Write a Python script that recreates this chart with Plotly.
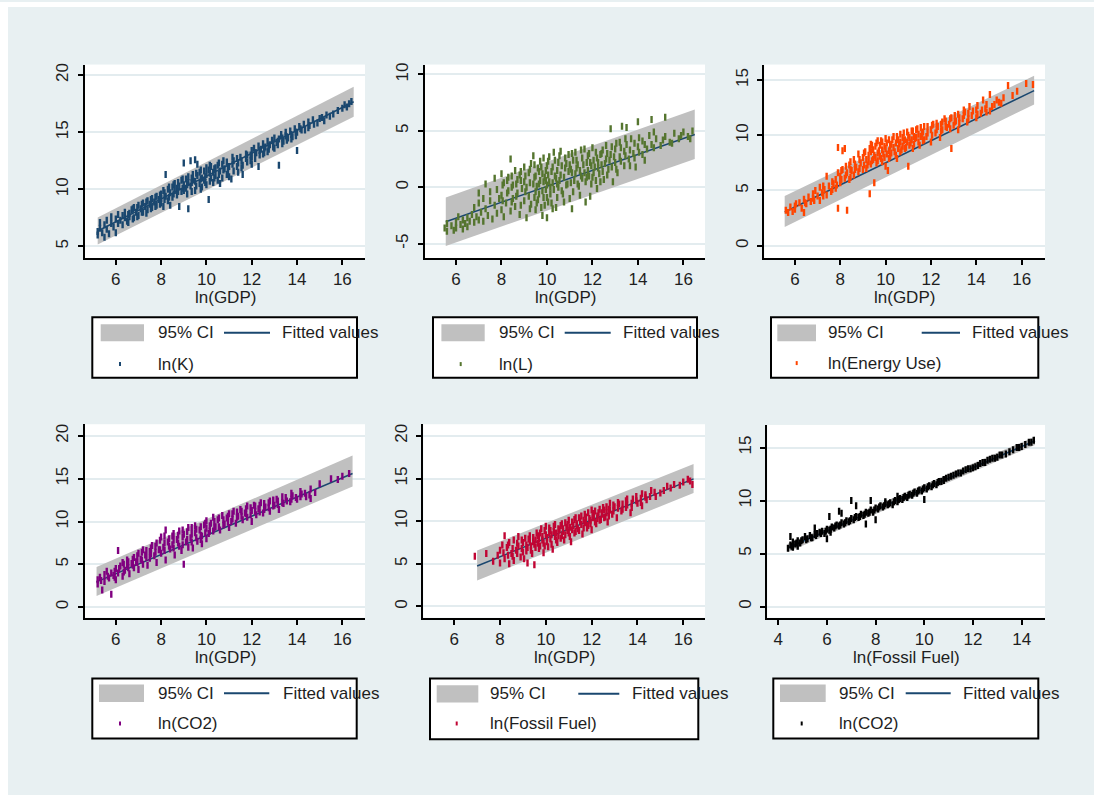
import plotly.graph_objects as go

W, H = 1094, 795

# ---------------- DATA ----------------
# scatter points: {x value: [y values at that x]}
lnK_by_gdp = {
    5.2: [6.3, 6.0], 5.3: [6.6, 7.1], 5.4: [6.2], 5.5: [6.9, 5.8], 5.6: [6.5, 7.3], 5.7: [6.1],
    5.8: [7.0, 7.6], 5.9: [6.7], 6.0: [7.4, 6.2], 6.1: [7.8, 7.0], 6.2: [7.3], 6.3: [6.9, 7.7],
    6.4: [7.5, 8.0], 6.5: [7.2], 6.6: [7.9, 7.6], 6.7: [8.2], 6.8: [7.5, 8.4], 6.9: [8.0],
    7.0: [8.6, 7.7], 7.1: [8.3], 7.2: [8.8, 8.0], 7.3: [8.5], 7.4: [9.0, 8.2], 7.5: [8.7],
    7.6: [9.2, 8.4], 7.7: [8.9], 7.8: [9.4, 8.6], 7.9: [9.1], 8.0: [9.6, 8.8, 9.2],
    8.1: [9.9, 8.5], 8.2: [11.3, 9.4], 8.3: [10.0, 9.0], 8.4: [9.7, 8.6], 8.5: [10.2, 9.3],
    8.6: [9.9, 10.5], 8.7: [9.5, 10.1], 8.8: [10.3, 8.5], 8.9: [10.8, 9.8],
    9.0: [12.3, 10.4, 9.9], 9.1: [10.9, 10.1], 9.2: [8.3, 10.6, 11.1], 9.3: [12.5, 10.3],
    9.4: [10.9, 11.3], 9.5: [12.6, 10.7, 9.9], 9.6: [12.2, 11.2], 9.7: [10.5, 11.5],
    9.8: [11.0, 10.2], 9.9: [11.6, 10.8], 10.0: [11.3, 11.9, 10.4], 10.1: [9.1, 11.7],
    10.2: [11.0, 12.0], 10.3: [11.5, 10.6], 10.4: [11.9, 11.2], 10.5: [10.8, 12.1],
    10.6: [11.6, 10.5], 10.7: [12.2, 11.0], 10.8: [11.8], 10.9: [12.4, 11.3], 11.0: [12.0, 11.1],
    11.1: [10.9], 11.2: [12.5, 11.6], 11.4: [12.3, 11.5], 11.5: [12.8], 11.6: [12.1, 11.3],
    11.8: [13.0, 12.4], 12.0: [12.8, 13.4, 12.2], 12.1: [13.6], 12.2: [13.2], 12.3: [12.0, 13.8],
    12.4: [13.5], 12.5: [13.1, 14.0], 12.6: [13.7], 12.7: [14.2, 13.3], 12.8: [13.9], 12.9: [14.3],
    13.0: [13.6, 14.5], 13.1: [14.1], 13.2: [12.1, 14.4], 13.3: [14.8], 13.4: [14.2],
    13.5: [14.7, 15.0], 13.6: [14.5], 13.7: [15.1], 13.8: [14.6], 13.9: [15.3],
    14.0: [13.4, 15.0], 14.1: [15.5], 14.2: [15.2], 14.3: [15.7], 14.5: [15.4, 15.9],
    14.7: [16.1], 14.9: [15.8], 15.0: [16.2], 15.2: [16.0], 15.3: [16.5], 15.6: [16.6],
    15.8: [16.9], 16.0: [17.1], 16.2: [17.2], 16.4: [17.7],
}
lnK_by_gdp_core = {
    6.55: [7.8, 7.1], 6.75: [7.4, 8.3], 6.95: [8.4, 7.6], 7.15: [8.0, 8.7], 7.35: [7.9, 8.9],
    7.55: [8.3, 9.1], 7.75: [8.5, 9.3], 7.95: [8.7, 9.5], 8.15: [9.1, 9.7], 8.35: [9.3, 10.2],
    8.55: [9.6, 10.4], 8.75: [9.8, 10.6], 8.95: [10.1, 10.9], 9.15: [10.4, 9.6],
    9.35: [10.6, 11.0, 9.8], 9.55: [10.3, 11.4], 9.75: [10.9, 11.7, 10.0], 9.95: [11.1, 10.6],
    10.15: [11.4, 10.7, 12.1], 10.35: [11.8, 11.0], 10.55: [11.3, 12.3], 10.75: [11.7, 12.5],
    10.95: [11.9, 11.4], 11.15: [12.2, 12.8], 11.35: [12.0, 12.7], 11.55: [12.5, 11.9],
    11.75: [12.7, 13.1], 11.95: [13.0, 12.5], 12.15: [13.2, 12.7], 12.35: [13.4, 13.0],
    12.55: [13.6, 13.2], 12.75: [13.8, 13.5], 12.95: [14.0, 13.7], 13.15: [14.2, 13.9],
    13.35: [14.5, 14.0], 13.55: [14.6, 14.3], 13.75: [14.8, 14.4], 13.95: [15.0, 14.7],
    14.15: [15.3], 14.35: [15.2], 14.55: [15.6], 14.75: [15.7], 15.1: [16.3], 15.45: [16.4],
    16.1: [17.4], 16.3: [17.5],
}

lnL_by_gdp = {
    5.5: [-3.6], 5.6: [-3.9, -3.2], 5.8: [-3.4], 5.9: [-3.8], 6.0: [-3.1, -3.6], 6.1: [-2.6],
    6.2: [-3.3], 6.3: [-3.7, -2.9], 6.4: [-3.2], 6.5: [-2.7, -3.5], 6.6: [-3.0], 6.7: [-2.4],
    6.8: [-3.1, -1.8], 6.9: [-2.6], 7.0: [-0.5, -2.9, -1.4], 7.1: [-2.2], 7.2: [-3.0, -1.0],
    7.3: [0.3, -1.9], 7.4: [-2.5], 7.5: [-1.2, -0.4], 7.6: [-2.8], 7.7: [0.8, -1.6],
    7.8: [-2.3, -0.2], 7.9: [-1.0], 8.0: [1.2, -2.0, -0.7], 8.1: [-2.6, 0.4], 8.2: [-1.4],
    8.3: [0.9, -0.3], 8.4: [2.5, -2.1], 8.5: [-1.0, 0.2], 8.6: [1.5, -1.7], 8.7: [-0.5, 0.7],
    8.8: [-2.4, 1.1], 8.9: [-0.1], 9.0: [1.8, -1.2, 0.5], 9.1: [-2.7, 0.0], 9.2: [1.3, -0.8],
    9.3: [2.1, -1.5], 9.4: [2.8, 0.3], 9.5: [-0.4, 1.0, -2.0], 9.6: [1.7, -1.1],
    9.7: [0.6, 2.3], 9.8: [-2.5, -0.3, 1.2], 9.9: [0.9, -1.6], 10.0: [-2.7, 0.2, 1.9, -0.9],
    10.1: [2.7, 0.5], 10.2: [-1.4, 1.4], 10.3: [3.1, -0.2], 10.4: [0.8, -1.8], 10.5: [2.2, 0.0],
    10.6: [1.1, 3.2], 10.7: [-0.6], 10.8: [1.7, 2.6], 10.9: [0.3], 11.0: [2.0, -1.0],
    11.1: [-1.9, 1.3, 3.0], 11.2: [0.6], 11.3: [2.4, 1.7], 11.4: [0.1], 11.5: [3.3, 1.0],
    11.6: [2.0], 11.7: [-1.3, 0.5], 11.8: [2.8, 1.5], 11.9: [-0.8, 2.2], 12.0: [3.5, 0.9],
    12.1: [1.8], 12.2: [2.6, -0.1], 12.3: [1.2], 12.4: [3.0, 2.0], 12.5: [0.7], 12.6: [2.5, 3.7],
    12.7: [1.6], 12.8: [5.2, 2.9], 12.9: [0.5], 13.0: [2.2, 3.4], 13.1: [1.3], 13.2: [4.0, 2.7],
    13.3: [5.4], 13.4: [1.9, 3.2], 13.5: [5.3, 3.8], 13.6: [2.5], 13.7: [4.3], 13.8: [3.0],
    13.9: [1.8], 14.0: [5.8, 3.6], 14.2: [4.1, 2.9], 14.4: [3.4], 14.5: [4.6], 14.6: [6.0, 3.8],
    14.8: [4.3], 15.0: [3.7], 15.2: [6.2, 4.5], 15.4: [4.0], 15.6: [4.8], 15.8: [4.3],
    16.0: [4.9], 16.2: [4.5], 16.4: [5.0],
}
lnL_by_gdp_core = {
    8.05: [0.2, -1.2], 8.25: [-0.5, 0.6], 8.45: [0.0, -1.3, 1.0], 8.65: [0.3, -0.8],
    8.85: [0.6, -1.6, 1.4], 9.05: [-0.4, 1.0], 9.25: [0.4, -1.9, 1.6], 9.45: [-0.9, 0.9, 2.0],
    9.55: [0.1, -1.4], 9.65: [1.4, -0.6, 0.3], 9.75: [-1.8, 1.8], 9.85: [0.5, -0.9, 2.6],
    9.95: [-0.2, 1.5, 0.6], 10.05: [-1.3, 1.1, 2.3], 10.15: [0.0, -0.6], 10.25: [1.8, 0.4, -1.9],
    10.35: [1.0, 2.4], 10.45: [-0.9, 1.5, 0.3], 10.55: [2.8, 0.6], 10.65: [-0.3, 1.9],
    10.75: [0.9, -1.3], 10.85: [2.1, 0.2], 10.95: [1.4, 2.9], 11.05: [0.4, 1.6], 11.15: [2.4, -0.4],
    11.25: [1.2, 3.1], 11.35: [0.3, 2.0], 11.45: [1.5, -0.7], 11.55: [2.6, 0.8], 11.65: [1.3, 3.4],
    11.75: [2.2, 0.9], 11.85: [1.0, 3.0], 11.95: [1.9, 0.3], 12.05: [2.4, 1.3], 12.15: [3.1, 0.6],
    12.25: [1.7, 2.2], 12.35: [2.9, 0.5], 12.45: [1.4, 3.3], 12.55: [2.1], 12.65: [3.0, 1.1],
    12.75: [2.4], 12.85: [1.8, 3.6], 12.95: [2.7], 13.05: [1.6, 3.9], 13.25: [2.3, 3.5],
    13.45: [2.8, 4.3], 13.65: [3.3, 1.9], 13.85: [3.9, 2.6], 14.05: [3.1, 4.4], 14.3: [3.8, 2.4],
    14.7: [3.5, 4.9], 15.1: [4.2], 15.5: [3.9], 15.9: [4.6], 16.3: [4.3],
}

lnE_by_gdp = {
    5.6: [3.2], 5.7: [3.0], 5.8: [3.5], 5.9: [3.1], 6.0: [3.6, 3.3], 6.2: [3.9], 6.3: [3.4],
    6.4: [4.2, 3.0], 6.5: [3.8], 6.6: [4.4], 6.7: [4.0], 6.8: [4.7, 4.3], 6.9: [5.0], 7.0: [4.5],
    7.1: [5.3, 4.1], 7.2: [4.8], 7.3: [5.1], 7.4: [6.3, 4.6], 7.5: [5.4], 7.6: [4.9], 7.7: [5.6],
    7.8: [6.0, 5.2], 7.9: [3.4, 8.9, 6.6], 8.0: [6.3, 5.7], 8.1: [8.6, 6.9], 8.2: [8.8, 6.1],
    8.3: [3.2, 6.6], 8.4: [7.3, 6.0], 8.5: [6.8], 8.6: [7.8, 6.4], 8.7: [7.1], 8.8: [8.3, 6.7],
    8.9: [7.5], 9.0: [6.9, 8.0], 9.1: [8.5], 9.2: [7.3], 9.3: [4.7, 8.8], 9.4: [7.7, 9.1],
    9.5: [5.7, 8.2], 9.6: [9.3, 7.5], 9.7: [8.6], 9.8: [7.9, 9.5], 9.9: [8.3],
    10.0: [9.7, 7.2, 8.8], 10.1: [6.8], 10.2: [9.0, 8.1], 10.3: [9.6], 10.4: [8.5],
    10.5: [9.9, 7.9], 10.6: [9.2], 10.7: [8.7], 10.8: [10.2, 9.5], 10.9: [8.9], 11.0: [7.2, 10.0],
    11.1: [9.3], 11.2: [10.4, 8.8], 11.3: [9.7], 11.4: [10.6], 11.5: [9.1], 11.6: [10.1],
    11.7: [9.6, 10.8], 11.8: [9.9], 12.0: [10.5, 9.4], 12.1: [11.0], 12.2: [10.2], 12.3: [10.8],
    12.4: [9.8], 12.5: [11.2, 10.5], 12.6: [11.5], 12.7: [10.7], 12.8: [11.0], 12.9: [8.8, 11.6],
    13.0: [10.9], 13.1: [11.3], 13.2: [10.5, 11.9], 13.4: [11.5], 13.5: [12.1], 13.6: [11.2],
    13.7: [12.6], 13.8: [11.8], 14.0: [12.3, 11.6], 14.2: [12.0], 14.3: [13.2], 14.4: [12.4],
    14.6: [13.7, 12.2], 14.8: [12.8], 15.0: [13.0], 15.2: [13.4], 15.4: [14.5], 15.6: [13.6],
    16.2: [14.7], 16.5: [14.6],
}
lnE_by_gdp_core = {
    6.05: [3.8], 6.45: [3.9], 6.85: [4.1], 7.25: [4.5, 5.4], 7.65: [5.1, 5.8], 7.85: [5.5],
    8.05: [6.0, 6.8], 8.25: [6.4, 7.2], 8.45: [6.2, 6.9, 7.6], 8.65: [6.9, 7.4], 8.85: [7.0, 7.8],
    9.05: [7.3, 8.4], 9.15: [7.0, 7.8], 9.25: [8.2, 7.6], 9.35: [7.4, 8.5, 9.2], 9.45: [7.8, 8.7],
    9.55: [8.0, 9.0], 9.65: [7.7, 8.4, 9.5], 9.75: [8.1, 9.1], 9.85: [8.7, 7.6, 9.4],
    9.95: [8.0, 9.0], 10.05: [8.3, 9.3], 10.15: [8.6, 9.6, 7.9], 10.25: [8.4, 9.2],
    10.35: [8.9, 9.9], 10.45: [8.2, 9.3], 10.55: [8.8, 9.6], 10.65: [9.4, 10.1, 8.5],
    10.75: [9.0, 9.8], 10.85: [8.8, 9.6], 10.95: [9.4, 10.3], 11.05: [9.1, 9.8], 11.15: [9.6, 10.4],
    11.25: [9.2, 9.9], 11.35: [9.8, 10.5], 11.45: [9.4, 10.1], 11.55: [9.9, 10.7], 11.65: [9.5, 10.3],
    11.85: [10.2, 10.8], 12.05: [10.0, 10.9], 12.25: [10.5, 11.1], 12.45: [10.4, 11.0],
    12.65: [10.8, 11.3], 12.85: [10.6, 11.5], 13.05: [11.2, 11.8], 13.25: [11.1, 11.6],
    13.45: [11.8, 12.3], 13.65: [11.5, 12.0], 13.85: [12.2], 14.05: [11.9, 12.7], 14.25: [12.3],
    14.45: [12.1, 12.8], 14.7: [12.6], 14.9: [13.2], 15.1: [12.9], 15.8: [14.0],
}

lnCO2_by_gdp = {
    5.2: [3.2, 2.7], 5.3: [3.5], 5.4: [2.0], 5.5: [3.8, 3.0], 5.6: [4.2], 5.7: [3.4],
    5.8: [1.5, 4.0], 5.9: [3.7], 6.0: [4.5, 3.2], 6.1: [6.6, 4.0], 6.2: [4.8], 6.3: [3.6, 5.2],
    6.4: [4.3], 6.5: [5.5, 4.9], 6.6: [3.9], 6.7: [5.1], 6.8: [5.8, 4.6], 6.9: [5.3],
    7.0: [6.3, 4.4], 7.1: [5.6], 7.2: [6.7, 5.0], 7.3: [6.1], 7.4: [4.9], 7.5: [6.5, 5.7],
    7.6: [7.2], 7.7: [6.0], 7.8: [5.2, 7.5], 7.9: [6.7], 8.0: [8.2, 6.3], 8.1: [7.0],
    8.2: [9.0, 5.5], 8.3: [7.6], 8.4: [6.8], 8.5: [8.3, 7.3], 8.6: [6.1], 8.7: [7.9],
    8.8: [8.9, 7.1], 8.9: [6.6], 9.0: [5.0, 8.5], 9.1: [7.6], 9.2: [9.3, 7.0], 9.3: [8.1],
    9.4: [6.9], 9.5: [9.5, 8.7], 9.6: [7.7], 9.7: [9.0], 9.8: [8.3, 7.4], 9.9: [9.6],
    10.0: [8.0, 10.1, 9.2], 10.1: [8.6], 10.2: [9.8], 10.3: [10.5, 8.9], 10.4: [9.4],
    10.5: [10.2], 10.6: [9.0], 10.7: [10.7], 10.8: [9.7], 10.9: [10.4], 11.0: [9.3, 10.9],
    11.1: [10.0], 11.2: [11.2], 11.3: [9.8], 11.4: [10.6], 11.5: [11.4], 11.6: [10.2],
    11.7: [11.0], 11.8: [11.8, 10.5], 12.0: [11.3, 10.0], 12.1: [11.9], 12.2: [10.8],
    12.3: [11.5], 12.4: [12.2], 12.5: [11.0], 12.6: [11.7], 12.8: [12.4, 11.2], 13.0: [11.9],
    13.1: [12.6], 13.2: [11.4], 13.4: [12.1], 13.5: [12.8], 13.7: [12.3], 13.8: [13.0],
    14.0: [12.6], 14.2: [13.2], 14.4: [12.9], 14.6: [13.8, 12.7], 14.8: [13.4], 15.0: [14.4],
    15.5: [15.0], 15.8: [14.9], 16.0: [15.3], 16.3: [15.6],
}
lnCO2_by_gdp_core = {
    5.35: [3.1], 5.65: [3.6], 5.95: [4.2, 3.5], 6.15: [4.5], 6.35: [4.1, 5.0], 6.55: [4.6, 5.3],
    6.75: [4.9, 5.6], 6.95: [5.2, 6.0], 7.15: [5.5, 6.4], 7.35: [5.8, 6.6], 7.55: [6.2, 6.9],
    7.75: [6.4, 7.1], 7.95: [6.7, 7.8], 8.15: [6.6, 7.5, 8.3], 8.35: [7.1, 8.0],
    8.55: [6.9, 7.8, 8.6], 8.75: [7.5, 8.4], 8.95: [7.3, 8.2, 9.0], 9.15: [7.9, 8.8],
    9.35: [7.6, 8.5, 9.3], 9.55: [8.1, 9.1], 9.75: [8.4, 9.4, 7.9], 9.95: [8.7, 9.8],
    10.15: [8.9, 9.5], 10.35: [9.2, 10.0], 10.55: [9.4, 10.4], 10.75: [9.6, 10.2],
    10.95: [9.9, 10.6], 11.15: [10.3, 10.9], 11.35: [10.5, 11.1], 11.55: [10.6, 11.2],
    11.75: [10.9, 11.5], 11.95: [10.8, 11.6], 12.15: [11.2, 11.8], 12.35: [11.1, 11.9],
    12.55: [11.4, 12.1], 12.75: [11.6, 12.2], 12.95: [11.8, 12.5], 13.15: [12.0, 12.4],
    13.35: [12.2, 12.9], 13.55: [12.4], 13.75: [12.6, 13.3], 13.95: [12.8], 14.15: [12.9, 13.5],
    14.35: [13.3], 14.55: [13.1],
}

lnFF_by_gdp = {
    6.9: [5.9], 7.4: [6.2], 7.7: [5.3], 7.9: [6.0], 8.0: [5.1, 6.6], 8.1: [7.2], 8.2: [8.3, 5.6],
    8.3: [6.9], 8.4: [5.0, 7.5], 8.5: [6.2], 8.6: [7.8, 5.4], 8.7: [6.6], 8.8: [8.2, 7.1],
    8.9: [5.8], 9.0: [7.5, 6.4], 9.1: [8.0], 9.2: [5.1, 6.9], 9.3: [7.7, 8.3], 9.4: [6.2],
    9.5: [7.3, 4.9], 9.6: [8.6], 9.7: [6.8, 7.9], 9.8: [9.1], 9.9: [7.4, 6.3], 10.0: [8.4, 9.4],
    10.1: [7.0], 10.2: [7.9, 8.9], 10.3: [6.7], 10.4: [9.6, 8.2], 10.5: [7.5], 10.6: [9.0],
    10.7: [8.3, 9.7], 10.8: [7.8], 10.9: [9.3], 11.0: [8.6, 10.1], 11.1: [7.6], 11.2: [9.5],
    11.3: [8.8, 10.4], 11.4: [9.1], 11.5: [10.0], 11.6: [8.5], 11.7: [9.8, 10.8], 11.8: [9.2],
    11.9: [10.3], 12.0: [11.3, 9.0], 12.1: [10.6], 12.2: [9.7], 12.3: [11.0], 12.4: [10.2],
    12.5: [11.6], 12.6: [10.5], 12.7: [9.9], 12.8: [11.3, 12.1], 12.9: [10.8], 13.0: [11.7],
    13.1: [10.4], 13.2: [12.0], 13.3: [11.2], 13.5: [12.4, 11.6], 13.7: [11.0], 13.8: [12.6],
    14.0: [12.1], 14.2: [13.2, 11.8], 14.4: [12.5], 14.6: [13.6], 14.8: [12.9], 15.0: [13.3],
    15.3: [14.1], 15.6: [14.3], 16.0: [14.6], 16.2: [14.9], 16.4: [14.3],
}
lnFF_by_gdp_core = {
    8.15: [6.3], 8.35: [6.0, 7.2], 8.55: [6.8, 5.9], 8.75: [7.4, 6.2], 8.95: [6.8, 7.8],
    9.05: [5.6], 9.15: [7.2, 6.5], 9.25: [7.9], 9.35: [6.6, 7.1], 9.45: [7.6, 8.1],
    9.55: [6.9, 7.8], 9.65: [7.4, 8.3], 9.75: [7.1, 8.6], 9.85: [7.8, 8.2], 9.95: [8.9, 7.1],
    10.05: [7.6, 8.1], 10.15: [8.6, 9.2], 10.25: [7.3, 8.4], 10.35: [8.8, 9.4], 10.45: [7.8, 8.6],
    10.55: [9.1, 8.3], 10.65: [8.0, 9.5], 10.75: [8.8, 9.1], 10.85: [8.4, 9.8], 10.95: [8.9, 9.6],
    11.05: [9.3, 8.2], 11.15: [9.0, 9.9], 11.25: [8.6, 10.2], 11.35: [9.5, 9.7], 11.45: [8.9, 10.4],
    11.55: [9.6, 10.6], 11.65: [9.2, 10.1], 11.75: [9.9, 10.5], 11.85: [9.5, 11.0],
    11.95: [10.1, 9.7], 12.05: [10.4, 10.9], 12.15: [9.9, 11.2], 12.25: [10.6, 10.3],
    12.35: [10.1, 11.4], 12.45: [10.8, 11.0], 12.55: [10.4, 11.3], 12.65: [11.0, 11.7],
    12.75: [10.6, 11.4], 12.95: [11.2, 11.9], 13.15: [11.5, 12.2], 13.35: [11.4, 12.0],
    13.55: [11.9, 12.6], 13.75: [12.1, 11.6], 13.95: [12.4, 12.9], 14.15: [12.2, 12.7],
    14.35: [12.8, 13.1], 14.55: [12.9], 14.75: [13.4], 15.15: [13.6], 15.45: [13.9],
    15.85: [14.2], 16.3: [14.7],
}

lnCO2_by_ff = {
    4.4: [5.5], 4.5: [5.8, 6.6], 4.6: [5.6, 6.1], 4.7: [5.9], 4.8: [6.2, 5.7], 4.9: [6.0],
    5.0: [6.3], 5.1: [6.6], 5.2: [6.4], 5.3: [6.7], 5.4: [6.5], 5.5: [7.4, 6.8], 5.6: [6.9],
    5.7: [7.0], 5.8: [7.1], 5.9: [6.9], 6.0: [6.4, 7.3], 6.1: [8.5, 7.2], 6.2: [7.5], 6.3: [7.4],
    6.4: [7.7], 6.5: [9.0, 7.6], 6.6: [7.9, 8.8], 6.7: [7.8], 6.8: [8.1], 6.9: [8.0],
    7.0: [10.0, 8.3], 7.1: [8.2], 7.2: [9.5, 8.5], 7.3: [8.4], 7.4: [8.7], 7.5: [8.6],
    7.6: [7.8, 8.9], 7.7: [8.8], 7.8: [10.0, 9.1], 7.9: [8.9], 8.0: [8.2, 9.3], 8.1: [9.2],
    8.2: [9.5], 8.3: [9.4], 8.4: [9.7, 9.9], 8.5: [9.6], 8.6: [9.8], 8.7: [9.6], 8.8: [10.0],
    8.9: [10.4, 9.9], 9.0: [10.2], 9.1: [10.1], 9.2: [10.4], 9.3: [10.3], 9.4: [10.6],
    9.5: [10.5], 9.6: [10.8], 9.7: [10.7], 9.8: [11.0], 9.9: [10.9], 10.0: [10.1, 11.2],
    10.1: [11.1], 10.2: [11.4], 10.3: [11.3], 10.4: [11.6], 10.5: [11.5], 10.6: [11.8],
    10.8: [12.0, 11.9], 11.0: [12.2], 11.2: [12.4], 11.4: [12.6], 11.6: [12.8], 11.8: [13.0],
    12.0: [13.1], 12.2: [13.3], 12.4: [13.6], 12.6: [13.8], 12.8: [14.0], 13.0: [14.1],
    13.2: [14.3], 13.5: [14.6], 13.8: [15.0], 14.0: [15.1], 14.3: [15.5], 14.5: [15.7],
}
lnCO2_by_ff_core = {
    4.55: [5.7], 4.75: [6.0], 4.95: [6.2], 5.15: [6.3], 5.35: [6.5], 5.55: [6.7], 5.75: [6.9],
    5.95: [7.1], 6.15: [7.3, 7.0], 6.35: [7.6], 6.55: [7.7], 6.75: [7.9], 6.95: [8.1], 7.15: [8.4],
    7.35: [8.5], 7.55: [8.7], 7.75: [8.9], 7.95: [9.1], 8.15: [9.4], 8.35: [9.5], 8.55: [9.7],
    8.75: [9.9], 8.95: [10.1], 9.15: [10.3], 9.35: [10.5], 9.55: [10.7], 9.75: [10.9],
    9.95: [11.1], 10.15: [11.3], 10.35: [11.5], 10.55: [11.7], 10.7: [11.8], 10.9: [12.1],
    11.1: [12.3], 11.3: [12.5], 11.5: [12.6], 11.7: [12.9], 11.9: [13.0], 12.1: [13.2],
    12.3: [13.5], 12.5: [13.6], 12.7: [13.9], 12.9: [14.0], 13.1: [14.3], 13.35: [14.4],
    13.65: [14.8], 13.9: [15.0], 14.15: [15.3], 14.4: [15.5],
}

# fitted values and 95% CI (at the two ends of each fit)
fitx_K, fit_K, cilo_K, cihi_K = [5.2, 16.5], [6.35, 17.67], [5.17, 16.36], [7.53, 18.98]
fitx_L, fit_L, cilo_L, cihi_L = [5.55, 16.5], [-3.05, 4.68], [-5.2, 2.5], [-0.9, 6.9]
fitx_E, fit_E, cilo_E, cihi_E = [5.55, 16.55], [3.05, 14.05], [1.7, 12.8], [4.5, 15.4]
fitx_C, fit_C, cilo_C, cihi_C = [5.15, 16.45], [2.95, 15.6], [1.3, 14.1], [4.7, 17.7]
fitx_F, fit_F, cilo_F, cihi_F = [7.0, 16.45], [4.75, 14.95], [3.05, 13.3], [6.55, 16.7]
fitx_CF, fit_CF, cilo_CF, cihi_CF = [4.4, 14.55], [5.55, 15.65], [5.15, 15.25], [5.95, 16.05]

# tick labels
xticks_gdp = [6, 8, 10, 12, 14, 16]
xticks_ff = [4, 6, 8, 10, 12, 14]
yticks_K = [5, 10, 15, 20]
yticks_L = [-5, 0, 5, 10]
yticks_E = [0, 5, 10, 15]
yticks_C = [0, 5, 10, 15, 20]
yticks_F = [0, 5, 10, 15, 20]
yticks_CF = [0, 5, 10, 15]

legend_ci = "95% CI"
legend_fit = "Fitted values"

# ---------------- LAYOUT / STYLE ----------------
FONT = "Liberation Sans, Arial, sans-serif"
TXT = "#1e1e1e"
BG = "#e8f0f2"
CI_COL = "#c0c0c0"
FIT_COL = "#1a476f"
GRID = "#e3ecef"


def fx(px):
    return px / W


def fy(py):
    return 1 - py / H


panels = [
    dict(pts=[lnK_by_gdp, lnK_by_gdp_core], fx_=fitx_K, fit=fit_K, lo=cilo_K, hi=cihi_K, color="#1a476f",
         name="ln(K)", xtitle="ln(GDP)", xt=xticks_gdp, yt=yticks_K,
         dom=(85, 365, 62.7, 256.7), xr=(4.64, 17.0), yr=(3.98, 20.93), title_y=296,
         leg=dict(box=(92.3, 316, 357, 376.7), rect=(100.7, 323, 144, 340), t1=156, line=(224, 270),
                  t2=280, mk=120, r1=331.7, r2=363)),
    dict(pts=[lnL_by_gdp, lnL_by_gdp_core], fx_=fitx_L, fit=fit_L, lo=cilo_L, hi=cihi_L, color="#55752f",
         name="ln(L)", xtitle="ln(GDP)", xt=xticks_gdp, yt=yticks_L,
         dom=(425, 705, 62.7, 256.7), xr=(4.636, 16.95), yr=(-6.27, 10.88), title_y=296,
         leg=dict(box=(433, 316, 697, 376.7), rect=(441.4, 323, 484.7, 340), t1=496.7, line=(564.7, 610.7),
                  t2=620.7, mk=460.7, r1=331.7, r2=363)),
    dict(pts=[lnE_by_gdp, lnE_by_gdp_core], fx_=fitx_E, fit=fit_E, lo=cilo_E, hi=cihi_E, color="#ff4500",
         name="ln(Energy Use)", xtitle="ln(GDP)", xt=xticks_gdp, yt=yticks_E,
         dom=(764.3, 1045, 62.7, 256.7), xr=(4.65, 17.03), yr=(-1.12, 16.41), title_y=296,
         leg=dict(box=(771, 316, 1038.3, 376.7), rect=(777.3, 323.3, 816, 340), t1=825.7, line=(921.7, 960),
                  t2=970, mk=796.7, r1=331.7, r2=362)),
    dict(pts=[lnCO2_by_gdp, lnCO2_by_gdp_core], fx_=fitx_C, fit=fit_C, lo=cilo_C, hi=cihi_C, color="#800080",
         name="ln(CO2)", xtitle="ln(GDP)", xt=xticks_gdp, yt=yticks_C,
         dom=(85, 365, 423.3, 617.3), xr=(4.64, 17.0), yr=(-1.24, 21.36), title_y=657,
         leg=dict(box=(92.3, 678.3, 356.7, 738.3), rect=(99, 684.3, 144, 701.7), t1=156, line=(224, 269.3),
                  t2=280.7, mk=120, r1=693, r2=723.3)),
    dict(pts=[lnFF_by_gdp, lnFF_by_gdp_core], fx_=fitx_F, fit=fit_F, lo=cilo_F, hi=cihi_F, color="#c10534",
         name="ln(Fossil Fuel)", xtitle="ln(GDP)", xt=xticks_gdp, yt=yticks_F,
         dom=(423.3, 705, 423.3, 617.3), xr=(4.65, 16.95), yr=(-1.32, 21.36), title_y=657,
         leg=dict(box=(430, 678.3, 698.3, 739), rect=(436.7, 685, 478.3, 702.3), t1=488.3, line=(578.3, 619.3),
                  t2=630, mk=456.7, r1=693.5, r2=723.3)),
    dict(pts=[lnCO2_by_ff, lnCO2_by_ff_core], fx_=fitx_CF, fit=fit_CF, lo=cilo_CF, hi=cihi_CF, color="#000000",
         name="ln(CO2)", xtitle="ln(Fossil Fuel)", xt=xticks_ff, yt=yticks_CF,
         dom=(767.3, 1045, 424, 617.3), xr=(3.55, 14.96), yr=(-1.06, 17.14), title_y=657,
         leg=dict(box=(773.3, 678.3, 1038.3, 738.3), rect=(780, 684.3, 825.7, 701.7), t1=837.3, line=(905.7, 950.7),
                  t2=960.7, mk=801.7, r1=693, r2=723.3)),
]

fig = go.Figure()
shapes = []
annotations = []

# white border strip at top and left of the picture
shapes.append(dict(type="rect", xref="paper", yref="paper", x0=0, x1=fx(8), y0=0, y1=1,
                   fillcolor="white", line=dict(width=0), layer="below"))
shapes.append(dict(type="rect", xref="paper", yref="paper", x0=0, x1=1, y0=fy(5), y1=1,
                   fillcolor="white", line=dict(width=0), layer="below"))

layout_axes = {}
for i, p in enumerate(panels, start=1):
    xa = "x" if i == 1 else f"x{i}"
    ya = "y" if i == 1 else f"y{i}"
    xs, ys = [], []
    for d in p["pts"]:
        for xv, yl in d.items():
            for yv in yl:
                xs.append(xv)
                ys.append(yv)
    # CI band
    fig.add_trace(go.Scatter(
        x=p["fx_"] + p["fx_"][::-1], y=p["lo"] + p["hi"][::-1],
        fill="toself", fillcolor=CI_COL, line=dict(width=0), mode="lines",
        xaxis=xa, yaxis=ya, showlegend=False, hoverinfo="skip"))
    # fitted line
    fig.add_trace(go.Scatter(
        x=p["fx_"], y=p["fit"], mode="lines", line=dict(color=FIT_COL, width=1.5),
        xaxis=xa, yaxis=ya, showlegend=False))
    # points
    fig.add_trace(go.Scatter(
        x=xs, y=ys, mode="markers",
        marker=dict(symbol="line-ns", size=5, line=dict(color=p["color"], width=2.4), color=p["color"]),
        xaxis=xa, yaxis=ya, showlegend=False))

    x0, x1, y0, y1 = p["dom"]
    tickfont = dict(family=FONT, size=17, color=TXT)
    layout_axes["xaxis" if i == 1 else f"xaxis{i}"] = dict(
        domain=[fx(x0), fx(x1)], range=list(p["xr"]), anchor=ya,
        tickmode="array", tickvals=p["xt"], ticktext=[str(t) for t in p["xt"]],
        ticks="outside", ticklen=5, tickwidth=2, tickcolor="black",
        showline=True, linewidth=2, linecolor="black", showgrid=False, zeroline=False,
        tickfont=tickfont, ticklabelstandoff=0)
    layout_axes["yaxis" if i == 1 else f"yaxis{i}"] = dict(
        domain=[fy(y1), fy(y0)], range=list(p["yr"]), anchor=xa,
        tickmode="array", tickvals=p["yt"], ticktext=[str(t) for t in p["yt"]],
        ticks="outside", ticklen=5, tickwidth=2, tickcolor="black", tickangle=-90,
        showline=True, linewidth=2, linecolor="black", showgrid=True, gridcolor=GRID,
        gridwidth=2, zeroline=False, tickfont=tickfont, ticklabelstandoff=3)

    # axis title
    annotations.append(dict(text=p["xtitle"], xref="paper", yref="paper",
                            x=fx((x0 + x1) / 2), y=fy(p["title_y"]), xanchor="center", yanchor="middle",
                            showarrow=False, font=dict(family=FONT, size=17, color=TXT)))

    # legend box
    L = p["leg"]
    bx0, by0, bx1, by1 = L["box"]
    shapes.append(dict(type="rect", xref="paper", yref="paper", x0=fx(bx0), x1=fx(bx1),
                       y0=fy(by1), y1=fy(by0), fillcolor="white", line=dict(color="black", width=2)))
    rx0, ry0, rx1, ry1 = L["rect"]
    shapes.append(dict(type="rect", xref="paper", yref="paper", x0=fx(rx0), x1=fx(rx1),
                       y0=fy(ry1), y1=fy(ry0), fillcolor=CI_COL, line=dict(width=0)))
    shapes.append(dict(type="line", xref="paper", yref="paper", x0=fx(L["line"][0]), x1=fx(L["line"][1]),
                       y0=fy(L["r1"]), y1=fy(L["r1"]), line=dict(color=FIT_COL, width=2)))
    shapes.append(dict(type="rect", xref="paper", yref="paper", x0=fx(L["mk"] - 1), x1=fx(L["mk"] + 1),
                       y0=fy(L["r2"] + 2), y1=fy(L["r2"] - 2), fillcolor=p["color"], line=dict(width=0)))
    for txt, tx, ty in [(legend_ci, L["t1"], L["r1"]), (legend_fit, L["t2"], L["r1"]), (p["name"], L["t1"], L["r2"])]:
        annotations.append(dict(text=txt, xref="paper", yref="paper", x=fx(tx), y=fy(ty),
                                xanchor="left", yanchor="middle", showarrow=False,
                                font=dict(family=FONT, size=17, color=TXT)))

fig.update_layout(
    width=W, height=H, margin=dict(l=0, r=0, t=0, b=0),
    paper_bgcolor=BG, plot_bgcolor="white", showlegend=False,
    shapes=shapes, annotations=annotations, **layout_axes)

fig.write_html("out.html", config={"displayModeBar": False},
               post_script="document.body.style.margin='0px';document.body.style.overflow='hidden';")
